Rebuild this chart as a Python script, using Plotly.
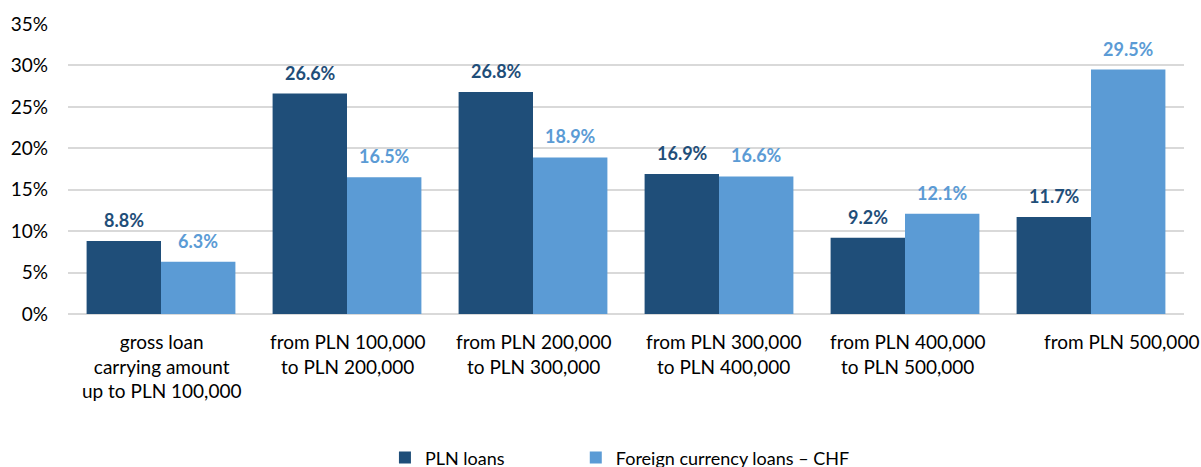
import plotly.graph_objects as go

categories = [
    "gross loan<br>carrying amount<br>up to PLN 100,000",
    "from PLN 100,000<br>to PLN 200,000",
    "from PLN 200,000<br>to PLN 300,000",
    "from PLN 300,000<br>to PLN 400,000",
    "from PLN 400,000<br>to PLN 500,000",
    "from PLN 500,000",
]
cat_ids = ["c1", "c2", "c3", "c4", "c5", "c6"]
pln_loans = [8.8, 26.6, 26.8, 16.9, 9.2, 11.7]
chf_loans = [6.3, 16.5, 18.9, 16.6, 12.1, 29.5]
series_names = ["PLN loans", "Foreign currency loans \u2013 CHF"]
y_ticks = [0, 5, 10, 15, 20, 25, 30, 35]

DARK = "#1F4E79"
LIGHT = "#5B9BD5"
FONT = "Lato"

fig = go.Figure()
fig.add_trace(go.Bar(x=cat_ids, y=pln_loans, name=series_names[0], legend="legend",
                     marker=dict(color=DARK, line=dict(width=0))))
fig.add_trace(go.Bar(x=cat_ids, y=chf_loans, name=series_names[1], legend="legend2",
                     marker=dict(color=LIGHT, line=dict(width=0))))

annotations = []
for cid, v in zip(cat_ids, pln_loans):
    annotations.append(dict(x=cid, y=v, xref="x", yref="y", text=f"<b>{v:.1f}%</b>",
                            showarrow=False, xshift=-37, yshift=8, yanchor="bottom",
                            font=dict(family=FONT, size=18, color=DARK)))
for cid, v in zip(cat_ids, chf_loans):
    annotations.append(dict(x=cid, y=v, xref="x", yref="y", text=f"<b>{v:.1f}%</b>",
                            showarrow=False, xshift=37, yshift=8, yanchor="bottom",
                            font=dict(family=FONT, size=18, color=LIGHT)))

label_xshift = [0, 0, 0, 4, 2, 30]
for cid, lab, xs in zip(cat_ids, categories, label_xshift):
    annotations.append(dict(x=cid, y=0, xref="x", yref="y", text=lab, showarrow=False,
                            yanchor="top", yshift=-14, xshift=xs,
                            font=dict(family=FONT, size=19, color="#000000")))

legend_style = dict(orientation="h", xanchor="left", y=-0.496, yanchor="middle",
                    font=dict(family=FONT, size=18, color="#000000"),
                    itemwidth=30, bgcolor="rgba(0,0,0,0)")

fig.update_layout(
    width=1201, height=467,
    margin=dict(l=68, r=17, t=24, b=153, autoexpand=False),
    paper_bgcolor="white", plot_bgcolor="white",
    barmode="group", bargap=0.2, bargroupgap=0,
    font=dict(family=FONT, size=18, color="#000000"),
    xaxis=dict(range=[-0.5, len(cat_ids) - 0.5], autorange=False,
               showticklabels=False, showgrid=False, showline=False, ticks="",
               fixedrange=True),
    yaxis=dict(range=[0, 35], autorange=False, tickvals=y_ticks,
               ticktext=[f"{t}%" for t in y_ticks],
               showgrid=True, gridcolor="#D9D9D9", gridwidth=1.5,
               zeroline=True, zerolinecolor="#D9D9D9", zerolinewidth=1.5,
               showline=False, ticks="", ticklabelstandoff=19, fixedrange=True,
               tickfont=dict(family=FONT, size=19, color="#000000")),
    legend=dict(x=0.284, **legend_style),
    legend2=dict(x=0.455, **legend_style),
    annotations=annotations,
    showlegend=True,
)

# remove the browser's default body margin so the figure fills the window exactly
fig.write_html("out.html",
               config={"displayModeBar": False},
               post_script="document.body.style.margin='0';document.body.style.overflow='hidden';")
